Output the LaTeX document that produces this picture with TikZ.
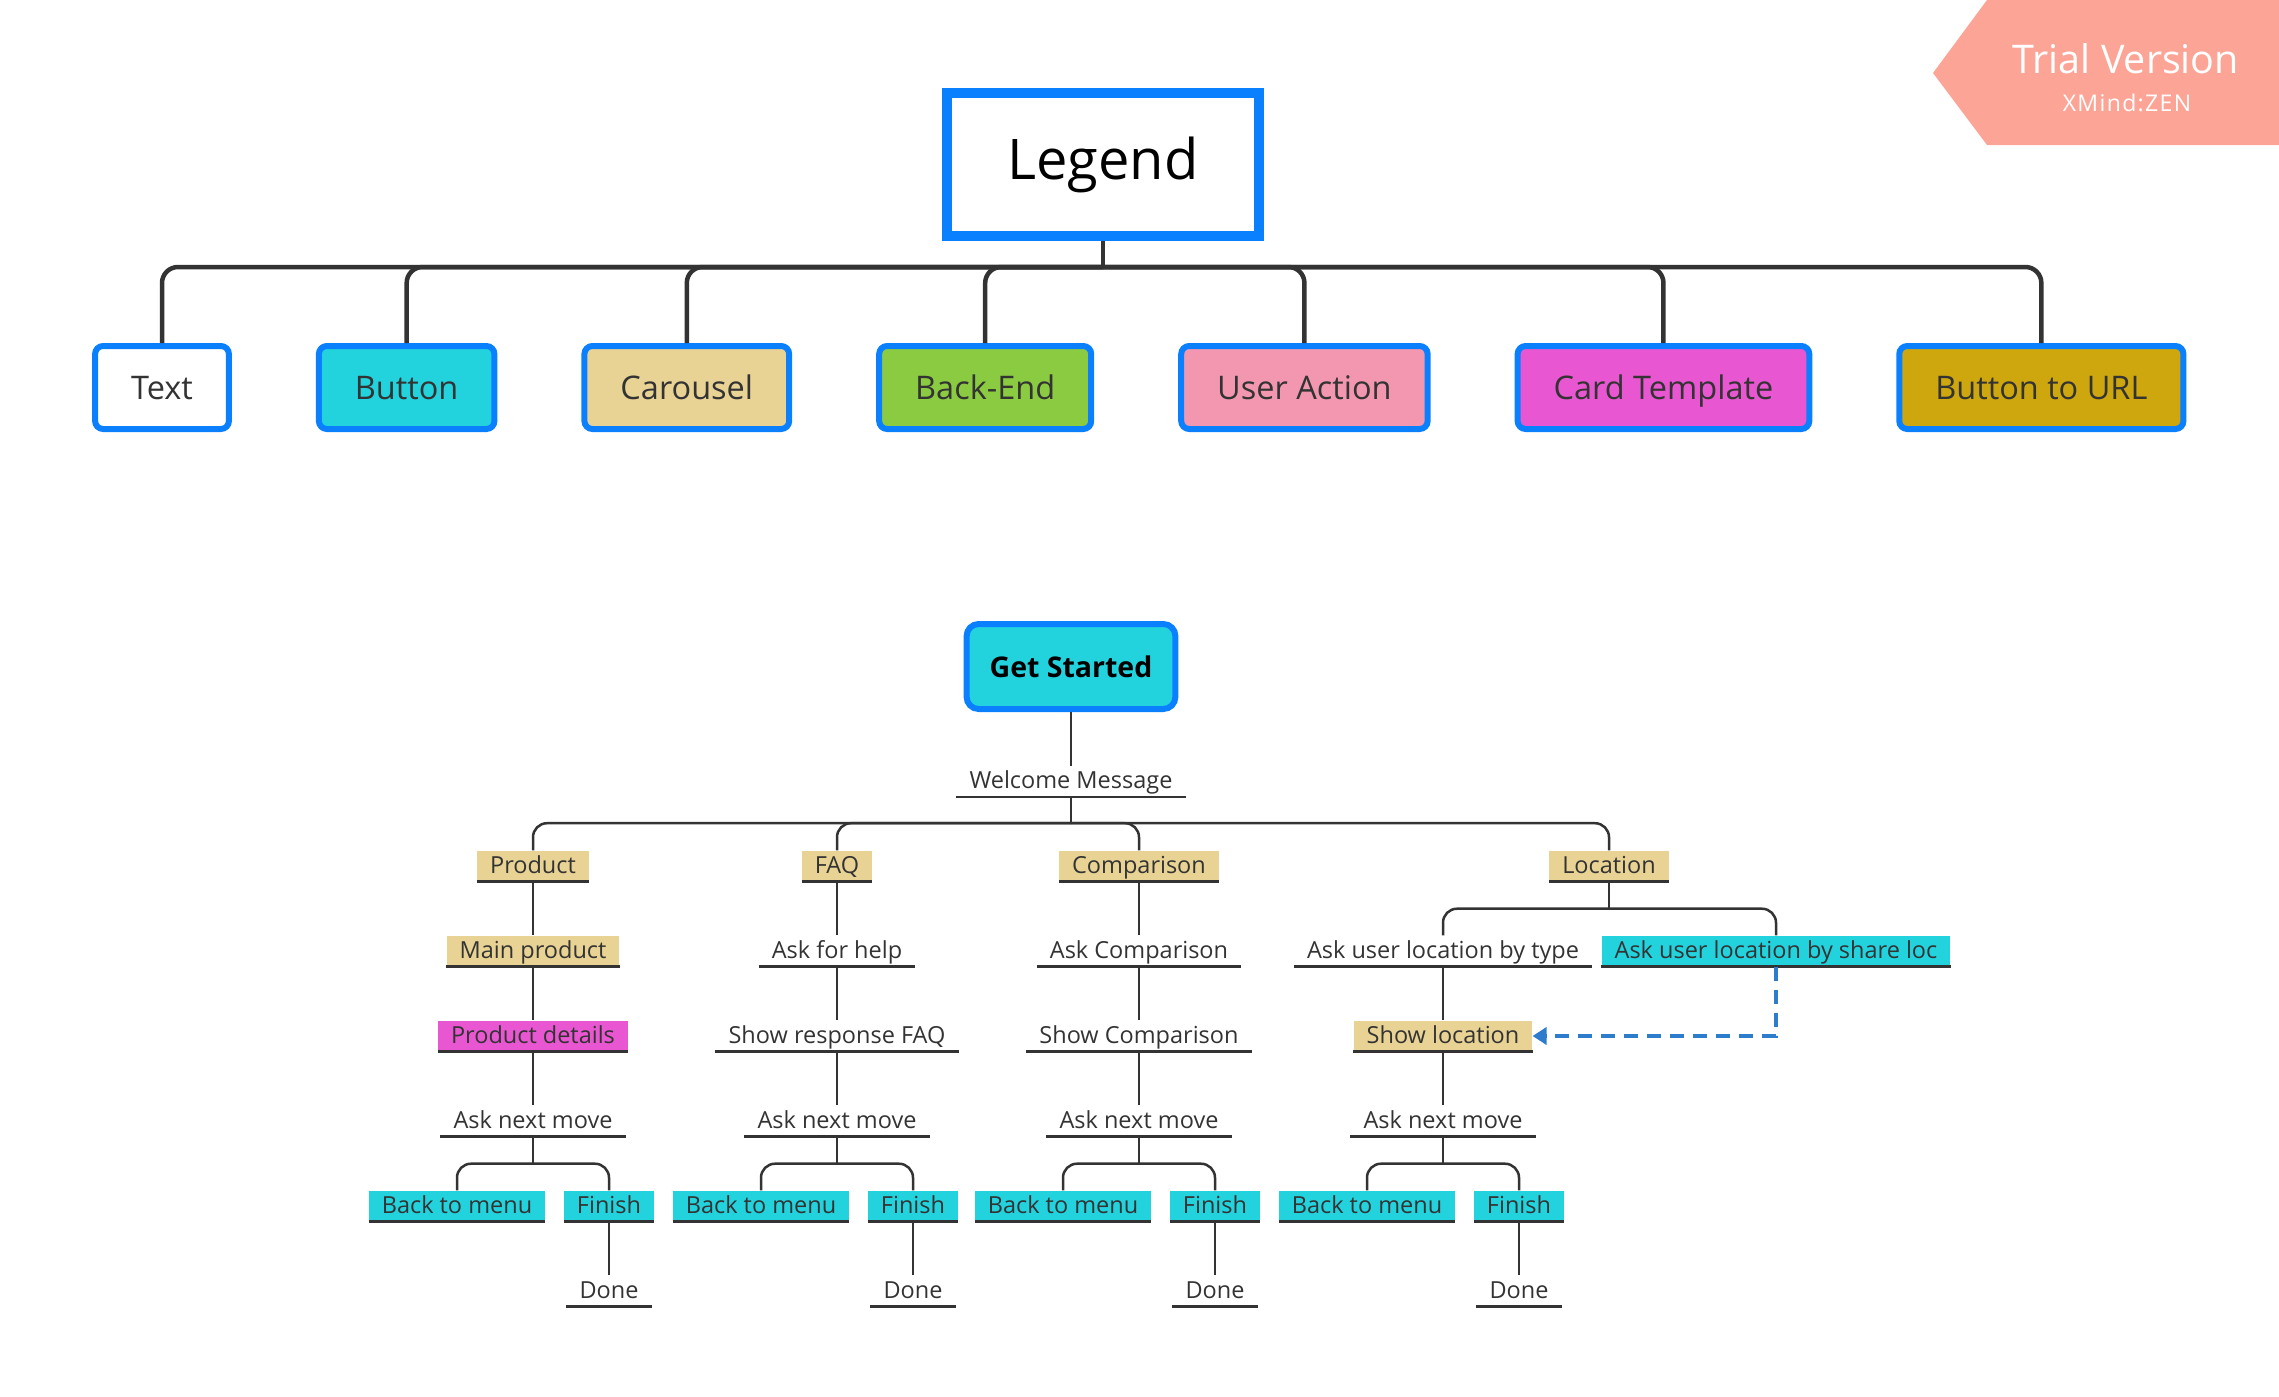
\documentclass[tikz,border=0pt]{standalone}
\usepackage{fontspec}
\setmainfont{Open Sans}
\usetikzlibrary{positioning,arrows.meta}

\definecolor{xblue}{RGB}{10,128,255}
\definecolor{xcyan}{RGB}{34,211,222}
\definecolor{xsand}{RGB}{232,210,148}
\definecolor{xgreen}{RGB}{139,203,65}
\definecolor{xpink}{RGB}{243,151,176}
\definecolor{xmagenta}{RGB}{233,86,209}
\definecolor{xgold}{RGB}{206,167,14}
\definecolor{xsalmon}{RGB}{252,165,151}
\definecolor{xline}{RGB}{51,51,51}
\definecolor{xdash}{RGB}{46,125,205}

\begin{document}
\begin{tikzpicture}[x=1pt,y=1pt,
  legendkey/.style={draw=xblue,line width=6pt,rounded corners=8pt,text=xline,
    minimum height=83pt,inner xsep=36pt,inner ysep=0pt,text height=23.3pt,text depth=0pt,
    font=\fontsize{32.5}{39}\selectfont},
  topic/.style={inner xsep=13pt,inner ysep=4.25pt,text height=18.5pt,text depth=4pt,
    text=xline,font=\fontsize{23.5}{28}\selectfont,
    append after command={(\tikzlastnode.south west) edge[draw=xline,line width=2.5pt] (\tikzlastnode.south east)}},
  bigline/.style={draw=xline,line width=4.5pt,rounded corners=16pt},
  link/.style={draw=xline,line width=2.5pt,rounded corners=14pt},
  dashlink/.style={draw=xdash,line width=3.5pt,dash pattern=on 14pt off 9pt,
    -{Triangle[length=14pt,width=17pt]}}]
  \useasboundingbox (0,0) rectangle (2279,-1397);

  % trial banner
  \fill[xsalmon] (1933,-73) -- (1987,0) -- (2279,0) -- (2279,-145) -- (1987,-145) -- cycle;
  \node[text=white,anchor=base,font=\fontsize{39.5}{47}\selectfont] (trial) at (2126,-74) {Trial Version};
  \node[text=white,anchor=base,font=\fontsize{23}{27}\selectfont\addfontfeature{LetterSpace=6}] (zen) at (2127,-111) {XMind:ZEN};

  % legend
  \node[draw=xblue,line width=10pt,minimum width=312pt,minimum height=143pt,
    font=\fontsize{56}{67}\selectfont] (legend) at (1103,-164.5) {Legend};
  \node[legendkey,fill=white] (text) at (162,-387.5) {Text};
  \node[legendkey,fill=xcyan,right=84pt of text] (button) {Button};
  \node[legendkey,fill=xsand,right=84pt of button] (carousel) {Carousel};
  \node[legendkey,fill=xgreen,right=84pt of carousel] (backend) {Back-End};
  \node[legendkey,fill=xpink,right=84pt of backend] (useraction) {User Action};
  \node[legendkey,fill=xmagenta,right=84pt of useraction] (card) {Card Template};
  \node[legendkey,fill=xgold,right=84pt of card] (url) {Button to URL};

  \coordinate[below=26pt of legend] (lbus);
  \draw[bigline] (legend.south) -- (lbus);
  \foreach \k in {text,button,carousel,backend,useraction,card,url}
    \draw[bigline] (lbus) -| (\k.north);

  % flow
  \begin{scope}[on grid]
  \node[draw=xblue,fill=xcyan,line width=6pt,rounded corners=12pt,minimum height=85pt,
    inner xsep=23pt,font=\bfseries\fontsize{28.5}{34}\selectfont] (start) at (1071,-666.5) {Get Started};
  \node[topic,below=115pt of start] (welcome) {Welcome Message};

  \node[topic,fill=xsand,below left=84.5pt and 538pt of welcome] (product) {Product};
  \node[topic,fill=xsand,below left=84.5pt and 234pt of welcome] (faq) {FAQ};
  \node[topic,fill=xsand,below right=84.5pt and 68pt of welcome] (comparison) {Comparison};
  \node[topic,fill=xsand,below right=84.5pt and 538pt of welcome] (location) {Location};

  \node[topic,fill=xsand,below=85pt of product] (mainprod) {Main product};
  \node[topic,fill=xmagenta,below=85pt of mainprod] (details) {Product details};
  \node[topic,below=85pt of details] (nextA) {Ask next move};

  \node[topic,below=85pt of faq] (askhelp) {Ask for help};
  \node[topic,below=85pt of askhelp] (showfaq) {Show response FAQ};
  \node[topic,below=85pt of showfaq] (nextB) {Ask next move};

  \node[topic,below=85pt of comparison] (askcomp) {Ask Comparison};
  \node[topic,below=85pt of askcomp] (showcomp) {Show Comparison};
  \node[topic,below=85pt of showcomp] (nextC) {Ask next move};

  \node[topic,below left=85pt and 166pt of location] (bytype) {Ask user location by type};
  \node[topic,fill=xcyan,below right=85pt and 167pt of location] (byshare) {Ask user location by share loc};
  \node[topic,fill=xsand,below=85pt of bytype] (showloc) {Show location};
  \node[topic,below=85pt of showloc] (nextD) {Ask next move};

  \foreach \n in {A,B,C,D} {
    \node[topic,fill=xcyan,below left=85pt and 76pt of next\n] (back\n) {Back to menu};
    \node[topic,fill=xcyan,below right=85pt and 76pt of next\n] (finish\n) {Finish};
    \node[topic,below=85pt of finish\n] (done\n) {Done};
  }
  \end{scope}

  \draw[link] (start) -- (welcome);
  \draw[link] (welcome.south) -- ++(0,-26);
  \foreach \c in {product,faq,comparison,location}
    \draw[link] ([yshift=-26pt]welcome.south) -| (\c.north);

  \draw[link] (product) -- (mainprod);
  \draw[link] (mainprod) -- (details);
  \draw[link] (details) -- (nextA);
  \draw[link] (faq) -- (askhelp);
  \draw[link] (askhelp) -- (showfaq);
  \draw[link] (showfaq) -- (nextB);
  \draw[link] (comparison) -- (askcomp);
  \draw[link] (askcomp) -- (showcomp);
  \draw[link] (showcomp) -- (nextC);

  \draw[link] (location.south) -- ++(0,-27);
  \foreach \c in {bytype,byshare}
    \draw[link] ([yshift=-27pt]location.south) -| (\c.north);
  \draw[link] (bytype) -- (showloc);
  \draw[link] (showloc) -- (nextD);
  \draw[dashlink] (byshare.south) |- (showloc.east);

  \foreach \n in {A,B,C,D} {
    \draw[link] (next\n.south) -- ++(0,-27);
    \draw[link] ([yshift=-27pt]next\n.south) -| (back\n.north);
    \draw[link] ([yshift=-27pt]next\n.south) -| (finish\n.north);
    \draw[link] (finish\n) -- (done\n);
  }
\end{tikzpicture}
\end{document}
